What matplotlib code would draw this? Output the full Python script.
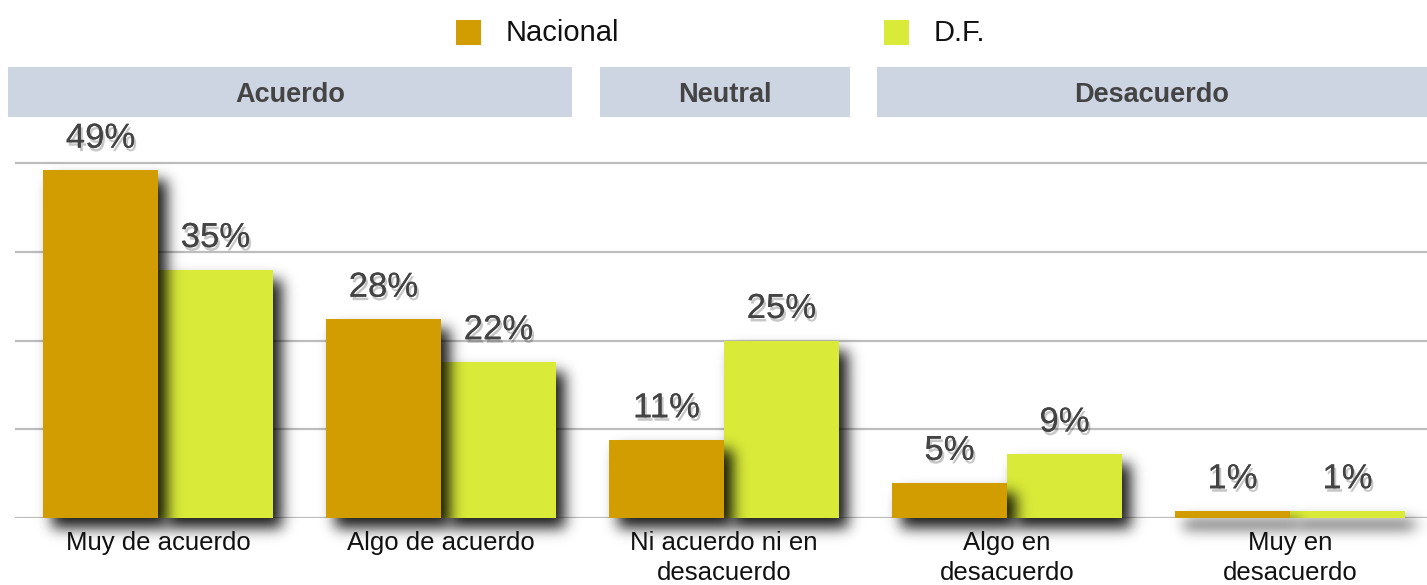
import matplotlib
matplotlib.use("Agg")
import numpy as np
import matplotlib.pyplot as plt
import matplotlib.patheffects as pe
from matplotlib.patches import Rectangle

plt.rcParams["font.family"] = ["Liberation Sans", "DejaVu Sans"]

categories = ["Muy de acuerdo", "Algo de acuerdo", "Ni acuerdo ni en\ndesacuerdo",
              "Algo en\ndesacuerdo", "Muy en\ndesacuerdo"]
nacional = [49, 28, 11, 5, 1]
df = [35, 22, 25, 9, 1]
series_names = ["Nacional", "D.F."]
groups = ["Acuerdo", "Neutral", "Desacuerdo"]
group_spans = [(8, 572), (600, 850), (877, 1427)]   # pixel extents of header boxes

C_NAC = "#d29d00"
C_DF = "#d9ea38"
C_HEAD = "#cdd5e3"
C_TXT = "#444444"

W, H = 1427, 585
fig = plt.figure(figsize=(W / 100, H / 100), dpi=100)
ax = fig.add_axes([15 / W, 1 - 518 / H, 1 - 15 / W, (518 - 120) / H])

px_x = 1 / 283.0          # data units per pixel
px_y = 12.5 / 88.7
bw = 115 * px_x
x_lo, x_hi = -143 * px_x, 1269 * px_x
y_lo, y_hi = -40 * px_y, 398 * px_y
nx, ny = int(round((x_hi - x_lo) / px_x)), int(round((y_hi - y_lo) / px_y))


def gauss_matrix(n, sigma):
    k = np.arange(n)
    m = np.exp(-(k[:, None] - k[None, :]) ** 2 / (2 * sigma ** 2))
    return m / m.sum(axis=1, keepdims=True)


KX, KY = gauss_matrix(nx, 7.0), gauss_matrix(ny, 7.0)


def shadow_layer(x0s, heights, z):
    # blurred drop shadow for a set of bars, offset right and down
    mask = np.zeros((ny, nx))
    for x0, h in zip(x0s, heights):
        c0 = int(round((x0 - x_lo) / px_x)) + 9
        c1 = c0 + int(round(bw / px_x))
        r0 = int(round((0 - y_lo) / px_y)) - 10
        r1 = int(round((h - y_lo) / px_y)) - 10
        mask[max(r0, 0):r1, c0:c1] = 1
    blur = KY @ mask @ KX.T
    img = np.zeros((ny, nx, 4))
    img[..., 3] = np.clip(blur * 0.9, 0, 1)
    ax.imshow(img, extent=[x_lo, x_hi, y_lo, y_hi], origin="lower", aspect="auto",
              interpolation="bilinear", zorder=z, clip_on=False)


idx = np.arange(len(categories))
shadow_layer(idx, df, 1)
shadow_layer(idx - bw, nacional, 3)
for i in idx:
    ax.add_patch(Rectangle((i, 0), bw, df[i], facecolor=C_DF, edgecolor="none", zorder=2))
    ax.add_patch(Rectangle((i - bw, 0), bw, nacional[i], facecolor=C_NAC, edgecolor="none", zorder=4))

txt_fx = [pe.withSimplePatchShadow(offset=(1.5, -2.5), shadow_rgbFace="black", alpha=0.22),
          pe.Normal()]
for i in idx:
    for x, v in ((i - bw / 2, nacional[i]), (i + bw / 2, df[i])):
        ax.text(x, v + 2.2, f"{v}%", ha="center", va="bottom", fontsize=25,
                color=C_TXT, zorder=6, path_effects=txt_fx)
    ax.text(i, -1.9, categories[i], ha="center", va="top", fontsize=18.5,
            color="#111111", linespacing=1.3, zorder=7)

for y in [0, 12.5, 25, 37.5, 50]:
    ax.axhline(y, color="#bdbdbd", lw=1.6, zorder=0)

ax.set_xlim(x_lo, x_hi)
ax.set_ylim(0, y_hi)
ax.axis("off")

# group header boxes
for name, (x0, x1) in zip(groups, group_spans):
    fig.add_artist(Rectangle((x0 / W, 1 - 117 / H), (x1 - x0) / W, 50 / H,
                             transform=fig.transFigure, facecolor=C_HEAD, edgecolor="none"))
    fig.text((x0 + x1) / 2 / W, 1 - 95 / H, name, ha="center", va="center",
             fontsize=19.5, fontweight="bold", color=C_TXT)

# legend
for name, col, x in zip(series_names, [C_NAC, C_DF], [456, 884]):
    fig.add_artist(Rectangle((x / W, 1 - 45 / H), 25 / W, 25 / H,
                             transform=fig.transFigure, facecolor=col, edgecolor="none"))
    fig.text((x + 50) / W, 1 - 33 / H, name, ha="left", va="center",
             fontsize=21, color="#111111")

fig.savefig("out.png", dpi=100)
